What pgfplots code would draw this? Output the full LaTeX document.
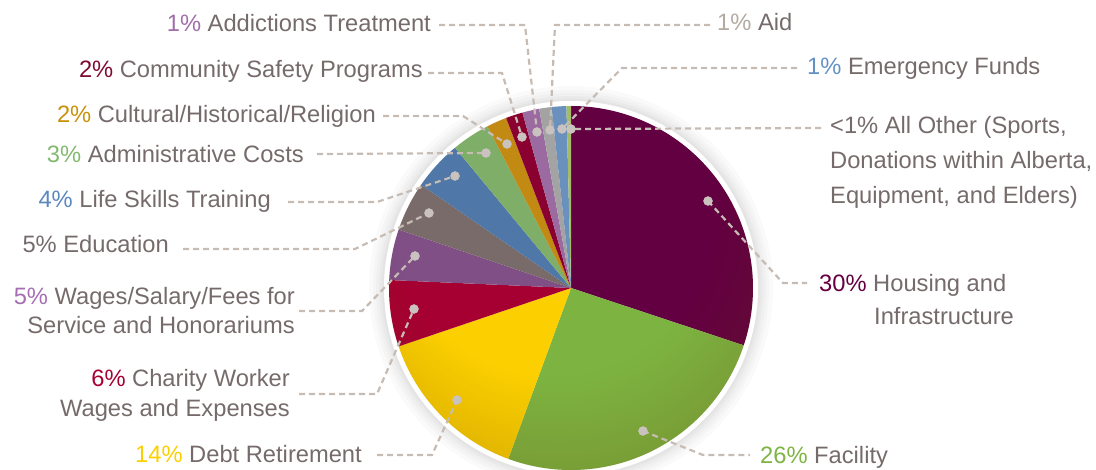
\documentclass[border=0pt]{standalone}
\usepackage{pgfplots}
\pgfplotsset{compat=1.18}
\usepackage{fontspec}
\setmainfont{Liberation Sans}
\usetikzlibrary{fadings}

\definecolor{ctext}{HTML}{766B6B}
\definecolor{cLine}{HTML}{C6BCB4}
\definecolor{cDot}{HTML}{CAC2BE}
% slice colours
\definecolor{sHous}{HTML}{630041}
\definecolor{sFac}{HTML}{7DB441}
\definecolor{sDebt}{HTML}{FCD000}
\definecolor{sChar}{HTML}{A60032}
\definecolor{sWage}{HTML}{7F4F86}
\definecolor{sEdu}{HTML}{7A6B6B}
\definecolor{sLife}{HTML}{4F78A8}
\definecolor{sAdm}{HTML}{7FAE69}
\definecolor{sCult}{HTML}{C28A12}
\definecolor{sComm}{HTML}{8A0030}
\definecolor{sAddi}{HTML}{9A6AA0}
\definecolor{sAid}{HTML}{A3A3A3}
\definecolor{sEmer}{HTML}{6A90BE}
\definecolor{sOth}{HTML}{A4BC6A}
% percentage label colours
\definecolor{pAddi}{HTML}{A06EAA}
\definecolor{pComm}{HTML}{800A32}
\definecolor{pCult}{HTML}{C8910A}
\definecolor{pAdm}{HTML}{82B96E}
\definecolor{pLife}{HTML}{5A87BE}
\definecolor{pWage}{HTML}{A56EB4}
\definecolor{pChar}{HTML}{A50034}
\definecolor{pDebt}{HTML}{FCD000}
\definecolor{pFac}{HTML}{7DB442}
\definecolor{pHous}{HTML}{640040}
\definecolor{pAid}{HTML}{B4AAA0}
\definecolor{pEmer}{HTML}{6491C3}
\definecolor{cVig}{HTML}{6A3C08}

\pgfdeclareradialshading{vignshade}{\pgfpoint{-4bp}{18bp}}{color(0bp)=(black); color(22bp)=(black); color(50bp)=(black!48)}
\pgfdeclarefading{vign}{\pgfuseshading{vignshade}}

% slice: start percent, end percent, colour (clockwise from 12 o'clock)
\newcommand\slice[3]{\fill[#3] (axis cs:571,288) -- ++({90-3.6*#1}:182pt) arc[start angle={90-3.6*#1}, end angle={90-3.6*#2}, radius=182pt] -- cycle;}

\begin{document}
\begin{tikzpicture}[every node/.style={font=\fontsize{23.7}{28}\selectfont, text=ctext, inner sep=0pt},
  leader/.style={color=cLine, line width=2.2pt, dash pattern=on 6pt off 4pt, mark=none}]
\path[use as bounding box] (0,0) rectangle (1096pt,470pt);
\begin{axis}[at={(0,0)}, anchor=south west, width=1096pt, height=470pt, scale only axis,
  xmin=0, xmax=1096, ymin=0, ymax=470, y dir=reverse, hide axis, clip=true]
% soft shadow
\fill[black, opacity=0.018] (axis cs:571,288) circle[radius=202pt];
\fill[black, opacity=0.018] (axis cs:571,288) circle[radius=198pt];
\fill[black, opacity=0.02] (axis cs:571,288) circle[radius=195pt];
\fill[black, opacity=0.022] (axis cs:571,288) circle[radius=192pt];
\fill[black, opacity=0.025] (axis cs:571,288) circle[radius=189.5pt];
% white border
\fill[white] (axis cs:571,288) circle[radius=187pt];
% slices (cumulative percentages)
\slice{0}{30.1}{sHous}
\slice{30.1}{55.6}{sFac}
\slice{55.6}{69.8}{sDebt}
\slice{69.8}{75.7}{sChar}
\slice{75.7}{80.2}{sWage}
\slice{80.2}{84.6}{sEdu}
\slice{84.6}{89.0}{sLife}
\slice{89.0}{92.4}{sAdm}
\slice{92.4}{94.2}{sCult}
\slice{94.2}{95.7}{sComm}
\slice{95.7}{97.2}{sAddi}
\slice{97.2}{98.3}{sAid}
\slice{98.3}{99.6}{sEmer}
\slice{99.6}{100}{sOth}
% shading
\fill[cVig, path fading=vign, fit fading=true] (axis cs:571,288) circle[radius=182pt];
% leader lines
\addplot[leader] coordinates {(439,25) (525,25) (537,132)};
\addplot[leader] coordinates {(428,73) (502,73) (522,137)};
\addplot[leader] coordinates {(383,116) (463,116) (507,144)};
\addplot[leader] coordinates {(317,154) (486,153)};
\addplot[leader] coordinates {(288,202) (377,202) (455,176)};
\addplot[leader] coordinates {(183,249) (355,249) (429,213)};
\addplot[leader] coordinates {(299,311) (362,311) (415,256)};
\addplot[leader] coordinates {(299,394) (377,394) (414,309)};
\addplot[leader] coordinates {(377,455) (432,455) (457,400)};
\addplot[leader] coordinates {(710,25) (555,25) (550,130)};
\addplot[leader] coordinates {(797,68) (622,68) (562,129)};
\addplot[leader] coordinates {(821,128) (571,129)};
\addplot[leader] coordinates {(708,201) (783,283) (807,283)};
\addplot[leader] coordinates {(643,431) (703,455) (750,455)};
% dots
\addplot[only marks, color=cDot, mark=*, mark size=4.5pt, mark options={fill=cDot, draw=cDot, solid}] coordinates {
(537,132) (522,137) (507,144) (486,153) (455,176) (429,213) (415,256) (414,309) (457,400)
(550,130) (562,129) (571,129) (708,201) (643,431)};
% labels, left side
\node[anchor=base east] at (axis cs:431,32) {\textcolor{pAddi}{1\%} Addictions Treatment};
\node[anchor=base east] at (axis cs:423,78) {\textcolor{pComm}{2\%} Community Safety Programs};
\node[anchor=base east] at (axis cs:376,123) {\textcolor{pCult}{2\%} Cultural/Historical/Religion};
\node[anchor=base east] at (axis cs:304,163) {\textcolor{pAdm}{3\%} Administrative Costs};
\node[anchor=base east] at (axis cs:271,208) {\textcolor{pLife}{4\%} Life Skills Training};
\node[anchor=base east] at (axis cs:169,253) {5\% Education};
\node[anchor=base east] at (axis cs:295,305) {\textcolor{pWage}{5\%} Wages/Salary/Fees for};
\node[anchor=base east] at (axis cs:295,334) {Service and Honorariums};
\node[anchor=base east] at (axis cs:290,387) {\textcolor{pChar}{6\%} Charity Worker};
\node[anchor=base east] at (axis cs:290,417) {Wages and Expenses};
\node[anchor=base east] at (axis cs:362,463) {\textcolor{pDebt}{14\%} Debt Retirement};
% labels, right side
\node[anchor=base west] at (axis cs:717,31) {\textcolor{pAid}{1\%} Aid};
\node[anchor=base west] at (axis cs:807,75) {\textcolor{pEmer}{1\%} Emergency Funds};
\node[anchor=base west] at (axis cs:830,134) {<1\% All Other (Sports,};
\node[anchor=base west] at (axis cs:830,169) {Donations within Alberta,};
\node[anchor=base west] at (axis cs:830,204) {Equipment, and Elders)};
\node[anchor=base west] at (axis cs:819,292) {\textcolor{pHous}{30\%} Housing and};
\node[anchor=base west] at (axis cs:874,325) {Infrastructure};
\node[anchor=base west] at (axis cs:760,464) {\textcolor{pFac}{26\%} Facility};
\end{axis}
\end{tikzpicture}
\end{document}
